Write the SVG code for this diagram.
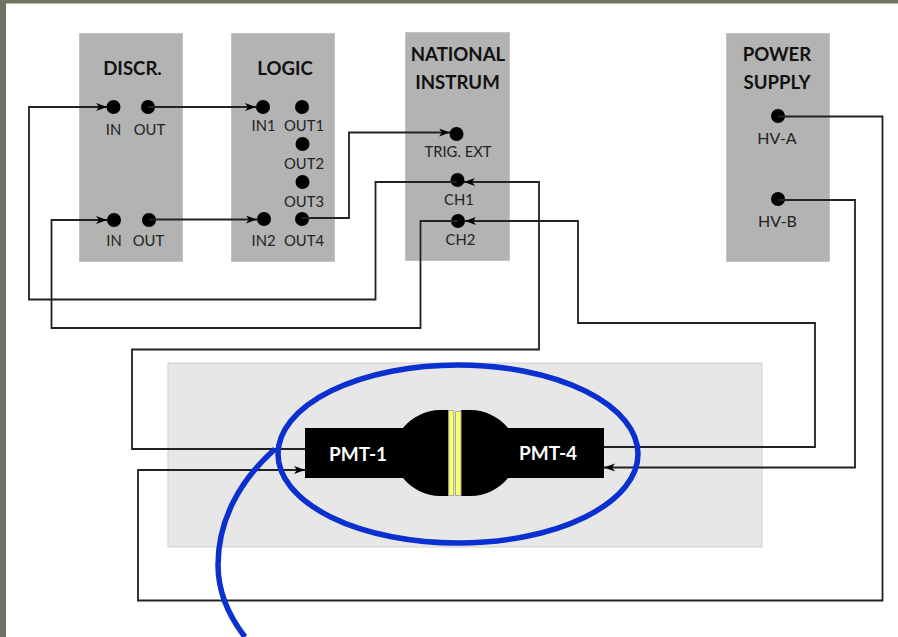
<svg xmlns="http://www.w3.org/2000/svg" width="898" height="637" viewBox="0 0 898 637">
<style>
text{font-family:Lato,"Liberation Sans",sans-serif;text-anchor:middle}
.mod{fill:#b3b3b3;stroke:#c4c4c4;stroke-width:1}
.t{font-size:18.600px;font-weight:700;fill:#111}
.l{font-size:14.800px;fill:#222}
.h{font-size:16px;fill:#222}
.w{font-size:19px;font-weight:700;fill:#fff}
.d{fill:#000}
.ca{fill:none;stroke:#222;stroke-width:1.8;marker-end:url(#a)}
</style>
<defs>
<marker id="a" markerUnits="userSpaceOnUse" markerWidth="14" markerHeight="10" refX="11" refY="4" orient="auto"><path d="M0 0L11 4L0 8L3 4Z" fill="#000"/></marker>
</defs>
<rect width="898" height="637" fill="#fff"/>
<path d="M0 0H898V3.500H6V637H0Z" fill="#70735f"/>
<g id="panel"><rect x="168" y="363" width="594" height="184" fill="#e7e7e7" stroke="#cfcfcf"/></g>
<g id="discr"><rect class="mod" x="79.500" y="33.500" width="103" height="228"/>
<text class="t" x="132.500" y="74.500">DISCR.</text>
<circle class="d" cx="113.500" cy="107" r="7"/><circle class="d" cx="148" cy="107" r="7"/>
<circle class="d" cx="114" cy="220" r="7"/><circle class="d" cx="149" cy="220" r="7"/>
<text class="l" x="113.500" y="135">IN</text><text class="l" x="149.500" y="135">OUT</text>
<text class="l" x="114" y="246">IN</text><text class="l" x="148.500" y="246">OUT</text></g>
<g id="logic"><rect class="mod" x="231.500" y="33.500" width="103" height="228"/>
<text class="t" x="285" y="74.500">LOGIC</text>
<circle class="d" cx="263" cy="107" r="7"/><circle class="d" cx="302" cy="107" r="7"/>
<circle class="d" cx="302.500" cy="144" r="7"/><circle class="d" cx="302.500" cy="182" r="7"/>
<circle class="d" cx="264" cy="219" r="7"/><circle class="d" cx="302" cy="219" r="7"/>
<text class="l" x="263.500" y="131">IN1</text><text class="l" x="304" y="131">OUT1</text>
<text class="l" x="304" y="169">OUT2</text><text class="l" x="304" y="207">OUT3</text>
<text class="l" x="263.500" y="246">IN2</text><text class="l" x="304" y="246">OUT4</text></g>
<g id="national"><rect class="mod" x="405.500" y="32.500" width="104" height="228"/>
<text class="t" x="458" y="61">NATIONAL</text><text class="t" x="457.500" y="88.500">INSTRUM</text>
<circle class="d" cx="456.500" cy="134" r="7"/><circle class="d" cx="457.500" cy="180" r="7"/><circle class="d" cx="458" cy="221" r="7"/>
<text class="l" x="458" y="157">TRIG. EXT</text><text class="l" x="459" y="205">CH1</text><text class="l" x="460.500" y="245">CH2</text></g>
<g id="power"><rect class="mod" x="726.500" y="33.500" width="103" height="228"/>
<text class="t" x="777" y="61">POWER</text><text class="t" x="777" y="88.500">SUPPLY</text>
<circle class="d" cx="778" cy="116" r="7"/><circle class="d" cx="778" cy="199" r="7"/>
<text class="h" x="777" y="144">HV-A</text><text class="h" x="777.500" y="227">HV-B</text></g>
<g id="connectors">
<path class="ca" d="M148 107H256"/>
<path class="ca" d="M149 219.500H257"/>
<path class="ca" d="M457 182H375.500V299.500H29V107H107"/>
<path class="ca" d="M458 221H420.500V328H51.500V220H107"/>
<path class="ca" d="M302 218H349V132.500H450"/>
<path class="ca" d="M305 449H132V349.500H539V182H464"/>
<path class="ca" d="M604 447H815V323H578V221H465"/>
<path class="ca" d="M778 116.500H882.500V600.500H138V470H305"/>
<path class="ca" d="M778 200H855V467.500H604"/>
</g>
<g id="pmt1"><path d="M305 428H403C412 417 426 410 440 410H449V496H440C426 496 412 489 403 478H305Z" fill="#000"/>
<text class="w" x="358" y="461">PMT-1</text></g>
<g id="pmt4"><path d="M604 428H508C499 417 485 410 471 410H461V496H471C485 496 499 489 508 478H604Z" fill="#000"/>
<text class="w" x="548" y="460">PMT-4</text></g>
<g id="crystals"><rect x="448.700" y="410.500" width="5" height="85" fill="#ffff66" stroke="#aaa"/>
<rect x="455.500" y="411.500" width="5.500" height="84" fill="#ffff66" stroke="#aaa"/></g>
<g id="loop"><ellipse cx="458" cy="454" rx="180" ry="89" fill="none" stroke="#0a30cf" stroke-width="5.500"/>
<path d="M275 449C240 480 218 520 218 565C218 590 228 615 245 637" fill="none" stroke="#0a30cf" stroke-width="5.500"/></g>
</svg>
